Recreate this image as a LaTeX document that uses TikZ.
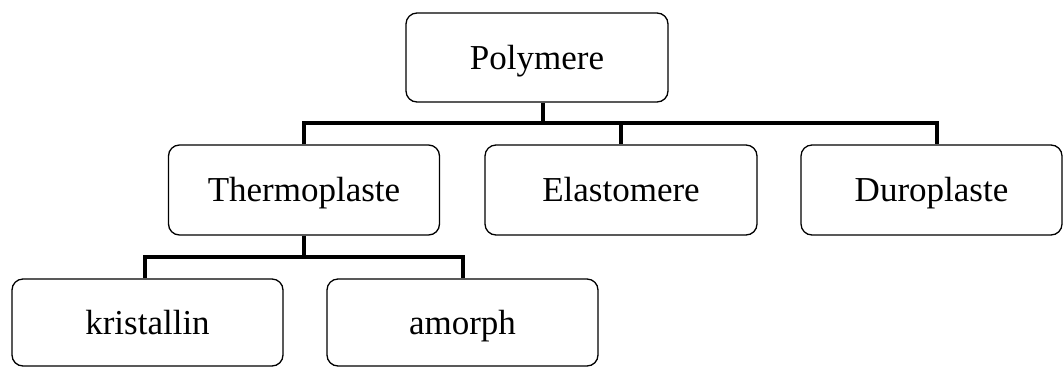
\documentclass[tikz,border=0pt]{standalone}
\usepackage{fontspec}
\setmainfont{Liberation Serif}
\begin{document}
\begin{tikzpicture}[x=1pt,y=-1pt,
  box/.style={draw=black, line width=1.3pt, rounded corners=11pt, fill=white,
    inner sep=0pt, text height=23.5pt, text depth=0pt, font=\fontsize{35}{40}\selectfont},
  conn/.style={line width=4.2pt, line cap=butt}]
\useasboundingbox[fill=white] (0,0) rectangle (1064,368);
\node[box, minimum width=262pt, minimum height=89pt] (P) at (537,57.5) {Polymere};
\node[box, minimum width=271pt, minimum height=90pt] (T) at (304,190) {Thermoplaste};
\node[box, minimum width=272pt, minimum height=90pt] (E) at (621,190) {Elastomere};
\node[box, minimum width=261pt, minimum height=90pt] (D) at (931.5,190) {Duroplaste};
\node[box, minimum width=271pt, minimum height=87pt] (K) at (147.5,322.5) {kristallin};
\node[box, minimum width=271pt, minimum height=87pt] (A) at (462.5,322.5) {amorph};
\coordinate (b1) at (543,123);
\coordinate (b2) at (304,257);
\draw[conn] (P.south -| b1) -- (b1);
\draw[conn] (T.north) |- (b1) -| (D.north -| 937,0);
\draw[conn] (b1 -| E.north) -- (E.north);
\draw[conn] (T.south -| b2) -- (b2);
\draw[conn] (K.north -| 145,0) |- (b2) -| (A.north -| 463,0);
\end{tikzpicture}
\end{document}
